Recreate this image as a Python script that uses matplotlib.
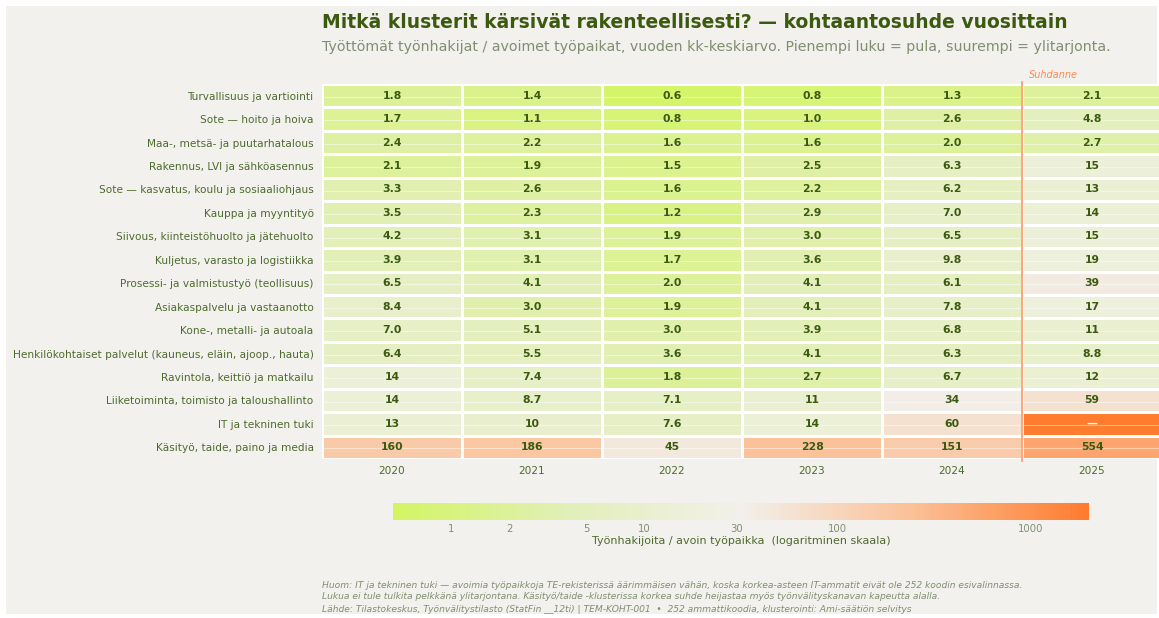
import numpy as np
import matplotlib.pyplot as plt
from matplotlib.colors import LinearSegmentedColormap, LogNorm
from matplotlib.patches import Rectangle

years = ["2020", "2021", "2022", "2023", "2024", "2025"]

clusters = [
    "Turvallisuus ja vartiointi",
    "Sote — hoito ja hoiva",
    "Maa-, metsä- ja puutarhatalous",
    "Rakennus, LVI ja sähköasennus",
    "Sote — kasvatus, koulu ja sosiaaliohjaus",
    "Kauppa ja myyntityö",
    "Siivous, kiinteistöhuolto ja jätehuolto",
    "Kuljetus, varasto ja logistiikka",
    "Prosessi- ja valmistustyö (teollisuus)",
    "Asiakaspalvelu ja vastaanotto",
    "Kone-, metalli- ja autoala",
    "Henkilökohtaiset palvelut (kauneus, eläin, ajoop., hauta)",
    "Ravintola, keittiö ja matkailu",
    "Liiketoiminta, toimisto ja taloushallinto",
    "IT ja tekninen tuki",
    "Käsityö, taide, paino ja media",
]

# ratio = unemployed job seekers / open vacancies, one row per cluster
ratios = [
    [1.8, 1.4, 0.6, 0.8, 1.3, 2.1],
    [1.7, 1.1, 0.8, 1.0, 2.6, 4.8],
    [2.4, 2.2, 1.6, 1.6, 2.0, 2.7],
    [2.1, 1.9, 1.5, 2.5, 6.3, 15],
    [3.3, 2.6, 1.6, 2.2, 6.2, 13],
    [3.5, 2.3, 1.2, 2.9, 7.0, 14],
    [4.2, 3.1, 1.9, 3.0, 6.5, 15],
    [3.9, 3.1, 1.7, 3.6, 9.8, 19],
    [6.5, 4.1, 2.0, 4.1, 6.1, 39],
    [8.4, 3.0, 1.9, 4.1, 7.8, 17],
    [7.0, 5.1, 3.0, 3.9, 6.8, 11],
    [6.4, 5.5, 3.6, 4.1, 6.3, 8.8],
    [14, 7.4, 1.8, 2.7, 6.7, 12],
    [14, 8.7, 7.1, 11, 34, 59],
    [13, 10, 7.6, 14, 60, np.nan],
    [160, 186, 45, 228, 151, 554],
]

cbar_ticks = [1, 2, 5, 10, 30, 100, 1000]

BG = "#f2f1ed"
DARK = "#3b5a10"
LABEL = "#4d6b2c"
MUTED = "#7f8f70"
ORANGE = "#ff7b2e"

W, H = 1159, 618
fig = plt.figure(figsize=(W / 100, H / 100), dpi=100, facecolor="white")
fig.patches.append(Rectangle((6 / W, 0.006), 1 - 8 / W, 1 - 6 / H - 0.006,
                             transform=fig.transFigure, facecolor=BG,
                             edgecolor="none", zorder=-10))

cmap = LinearSegmentedColormap.from_list(
    "kohtaanto", [(0, "#d3f562"), (0.25, "#e2efb8"), (0.5, "#f2f0ea"),
                  (0.75, "#fbc096"), (1, ORANGE)])
cmap.set_bad(ORANGE)
norm = LogNorm(vmin=0.5, vmax=2000)

data = np.ma.masked_invalid(np.array(ratios, dtype=float))

ax = fig.add_axes([322 / W, 1 - 459 / H, 840 / W, 375 / H])
ax.set_facecolor(BG)
mesh = ax.pcolormesh(np.arange(len(years) + 1), np.arange(len(clusters) + 1),
                     data, cmap=cmap, norm=norm, edgecolors="white",
                     linewidth=2)
ax.set_ylim(len(clusters), 0)
ax.set_xlim(0, len(years))

for i, row in enumerate(ratios):
    for j, v in enumerate(row):
        if np.isnan(v):
            ax.text(j + 0.5, i + 0.5, "—", ha="center", va="center",
                    color="white", fontsize=7.8, fontweight="bold")
        else:
            s = f"{v:.1f}" if v < 10 else f"{v:.0f}"
            ax.text(j + 0.5, i + 0.5, s, ha="center", va="center",
                    color=DARK, fontsize=7.8, fontweight="bold")

# faint row lines
for i in range(len(clusters)):
    ax.axhline(i + 0.55, color="white", alpha=0.45, lw=0.8)

ax.set_xticks(np.arange(len(years)) + 0.5)
ax.set_xticklabels(years)
ax.set_yticks(np.arange(len(clusters)) + 0.5)
ax.set_yticklabels(clusters)
ax.tick_params(length=0, labelsize=7.6, colors=LABEL, pad=6)
ax.tick_params(axis="x", pad=5)
for sp in ax.spines.values():
    sp.set_visible(False)

ax.axvline(5, ymin=-0.005, ymax=1.005, color="#ff9466", lw=1.2, clip_on=False)
ax.text(5.05, -0.15, "Suhdanne", color="#ff8a50", fontsize=7,
        style="italic", ha="left", va="bottom")

fig.text(322 / W, 1 - 23 / H,
         "Mitkä klusterit kärsivät rakenteellisesti? — kohtaantosuhde vuosittain",
         fontsize=13.5, fontweight="bold", color=DARK, va="center")
fig.text(322 / W, 1 - 47 / H,
         "Työttömät työnhakijat / avoimet työpaikat, vuoden kk-keskiarvo. "
         "Pienempi luku = pula, suurempi = ylitarjonta.",
         fontsize=10.15, color=MUTED, va="center")

cax = fig.add_axes([393 / W, 1 - 520 / H, 696 / W, 17 / H])
cb = fig.colorbar(mesh, cax=cax, orientation="horizontal")
cb.outline.set_visible(False)
cb.set_ticks(cbar_ticks)
cb.set_ticklabels([str(t) for t in cbar_ticks])
cb.minorticks_off()
cax.tick_params(length=0, labelsize=7.3, colors=MUTED, pad=3)
cb.set_label("Työnhakijoita / avoin työpaikka  (logaritminen skaala)",
             fontsize=8, color=LABEL, labelpad=1)

fig.text(322 / W, 1 - 591 / H,
         "Huom: IT ja tekninen tuki — avoimia työpaikkoja TE-rekisterissä äärimmäisen vähän, "
         "koska korkea-asteen IT-ammatit eivät ole 252 koodin esivalinnassa.\n"
         "Lukua ei tule tulkita pelkkänä ylitarjontana. Käsityö/taide -klusterissa korkea suhde "
         "heijastaa myös työnvälityskanavan kapeutta alalla.",
         fontsize=6.6, style="italic", color=MUTED, va="center", linespacing=1.3)
fig.text(322 / W, 1 - 610 / H,
         "Lähde: Tilastokeskus, Työnvälitystilasto (StatFin __12ti) | TEM-KOHT-001  •  "
         "252 ammattikoodia, klusterointi: Ami-säätiön selvitys",
         fontsize=6.6, style="italic", color=MUTED, va="center")

fig.savefig("out.png", dpi=100, facecolor="white")
